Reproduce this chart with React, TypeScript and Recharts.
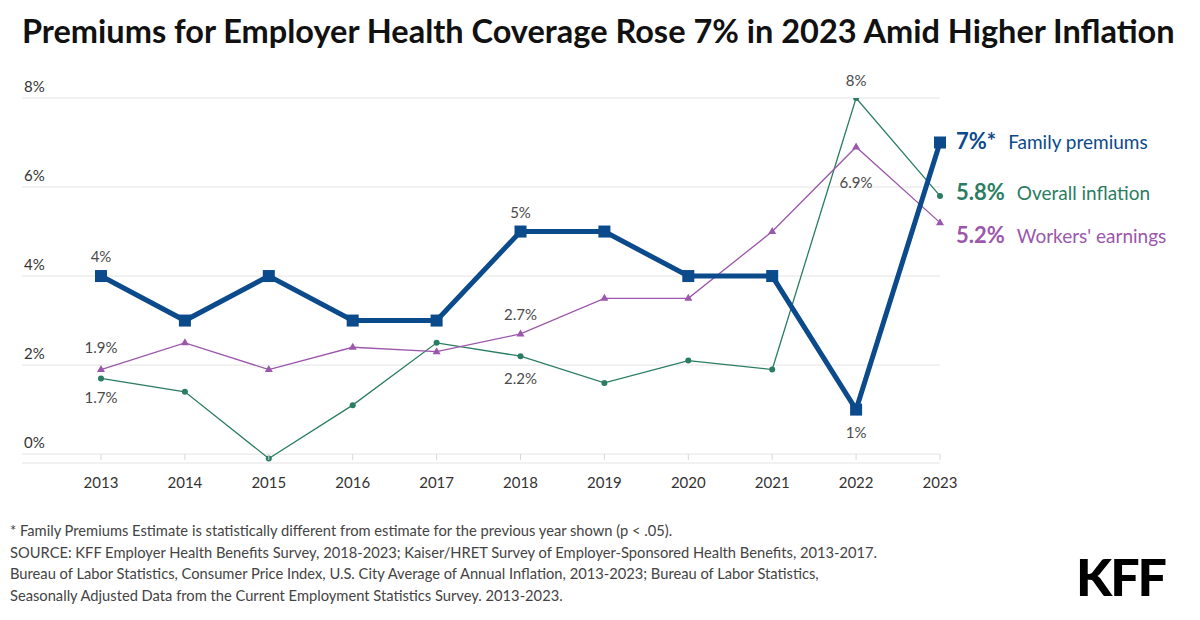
import { LineChart, Line, XAxis, YAxis, CartesianGrid, LabelList } from "recharts";

const years = ["2013", "2014", "2015", "2016", "2017", "2018", "2019", "2020", "2021", "2022", "2023"];
const familyPremiums = [4, 3, 4, 3, 3, 5, 5, 4, 4, 1, 7];
const overallInflation = [1.7, 1.4, -0.1, 1.1, 2.5, 2.2, 1.6, 2.1, 1.9, 8.0, 5.8];
const workersEarnings = [1.9, 2.5, 1.9, 2.4, 2.3, 2.7, 3.5, 3.5, 5.0, 6.9, 5.2];
const yTicks = [0, 2, 4, 6, 8];

// point labels shown on the chart ("" = none)
const premiumLabels = ["4%", "", "", "", "", "5%", "", "", "", "1%", ""];
const inflationLabels = ["1.7%", "", "", "", "", "2.2%", "", "", "", "8%", ""];
const earningsLabels = ["1.9%", "", "", "", "", "2.7%", "", "", "", "6.9%", ""];

const seriesNames = ["Family premiums", "Overall inflation", "Workers' earnings"];
const endValues = ["7%*", "5.8%", "5.2%"];

const title = "Premiums for Employer Health Coverage Rose 7% in 2023 Amid Higher Inflation";
const footnotes = [
  "* Family Premiums Estimate is statistically different from estimate for the previous year shown (p < .05).",
  "SOURCE: KFF Employer Health Benefits Survey, 2018-2023; Kaiser/HRET Survey of Employer-Sponsored Health Benefits, 2013-2017.",
  "Bureau of Labor Statistics, Consumer Price Index, U.S. City Average of Annual Inflation, 2013-2023; Bureau of Labor Statistics,",
  "Seasonally Adjusted Data from the Current Employment Statistics Survey. 2013-2023.",
];

const data = years.map((year, i) => ({
  year,
  premiums: familyPremiums[i],
  inflation: overallInflation[i],
  earnings: workersEarnings[i],
}));

const BLUE = "#0b4a8b";
const GREEN = "#2a7d62";
const PURPLE = "#9b57ab";
const FONT = "Lato, 'Noto Sans', sans-serif";

// vertical offset of each point label from its point
const labelDy: Record<string, number[]> = {
  premiums: [-19, 0, 0, 0, 0, -19, 0, 0, 0, 23, 0],
  inflation: [20, 0, 0, 0, 0, 23, 0, 0, 0, -17, 0],
  earnings: [-22, 0, 0, 0, 0, -19, 0, 0, 0, 36, 0],
};
const endDy = [-1, -3, 13];

const pointLabel = (texts: string[], key: string) => (props: any) => {
  const { x, y, index } = props;
  const t = texts[index];
  if (!t) return null;
  return (
    <text x={x} y={y + labelDy[key][index]} dy={5} textAnchor="middle" fontSize={15} fill="#4a4a4a" fontFamily={FONT}>
      {t}
    </text>
  );
};

const endLabel = (s: number, color: string) => (props: any) => {
  const { x, y, index } = props;
  if (index !== years.length - 1) return null;
  return (
    <text x={x + 16} y={y + endDy[s]} dy={7} fill={color} fontFamily={FONT}>
      <tspan fontSize={22} fontWeight={700}>{endValues[s]}</tspan>
      <tspan dx={12} fontSize={19}>{seriesNames[s]}</tspan>
    </text>
  );
};

const SquareDot = (props: any) => {
  const { cx, cy } = props;
  return <rect key={`sq-${cx}`} x={cx - 6} y={cy - 6} width={12} height={12} fill={BLUE} />;
};

const TriangleDot = (props: any) => {
  const { cx, cy } = props;
  return <polygon key={`tr-${cx}`} points={`${cx},${cy - 4.5} ${cx + 4},${cy + 2.5} ${cx - 4},${cy + 2.5}`} fill={PURPLE} />;
};

const XTick = (props: any) => {
  const { x, y, payload } = props;
  return (
    <g>
      <line x1={x} x2={x} y1={y - 9} y2={y - 3} stroke="#d8d8d8" />
      <text x={x} y={y + 25} textAnchor="middle" fontSize={15} fill="#333" fontFamily={FONT}>
        {payload.value}
      </text>
    </g>
  );
};

const YTick = (props: any) => {
  const { y, payload } = props;
  return (
    <text x={24} y={y - 6} textAnchor="start" fontSize={15} fill="#333" fontFamily={FONT}>
      {payload.value}%
    </text>
  );
};

export default function App() {
  return (
    <div style={{ position: "absolute", left: 0, top: 0, width: 1200, height: 620, background: "#fff", fontFamily: FONT }}>
      <div style={{ position: "absolute", left: 22, top: 11, fontSize: 32.5, fontWeight: 700, color: "#111", whiteSpace: "nowrap" }}>
        {title}
      </div>
      <LineChart width={1200} height={620} data={data} margin={{ top: 98, right: 260, bottom: 127, left: 0 }}>
        <CartesianGrid vertical={false} stroke="#e4e4e4" />
        <XAxis
          dataKey="year"
          axisLine={false}
          tickLine={false}
          tickSize={0}
          tickMargin={0}
          height={30}
          padding={{ left: 79, right: 0 }}
          tick={<XTick />}
          interval={0}
        />
        <YAxis
          width={22}
          domain={[-0.2, 8]}
          ticks={yTicks}
          axisLine={false}
          tickLine={false}
          tick={<YTick />}
          allowDataOverflow
        />
        <Line
          dataKey="inflation"
          stroke={GREEN}
          strokeWidth={1.3}
          dot={{ r: 3, fill: GREEN, stroke: "none" }}
          isAnimationActive={false}
        >
          <LabelList dataKey="inflation" content={pointLabel(inflationLabels, "inflation")} />
          <LabelList dataKey="inflation" content={endLabel(1, GREEN)} />
        </Line>
        <Line
          dataKey="earnings"
          stroke={PURPLE}
          strokeWidth={1.3}
          dot={<TriangleDot />}
          isAnimationActive={false}
        >
          <LabelList dataKey="earnings" content={pointLabel(earningsLabels, "earnings")} />
          <LabelList dataKey="earnings" content={endLabel(2, PURPLE)} />
        </Line>
        <Line
          dataKey="premiums"
          stroke={BLUE}
          strokeWidth={5}
          strokeLinejoin="miter"
          dot={<SquareDot />}
          isAnimationActive={false}
        >
          <LabelList dataKey="premiums" content={pointLabel(premiumLabels, "premiums")} />
          <LabelList dataKey="premiums" content={endLabel(0, BLUE)} />
        </Line>
      </LineChart>
      <div style={{ position: "absolute", left: 10, top: 520, fontSize: 14.7, lineHeight: "21.5px", color: "#444" }}>
        {footnotes.map((f) => (
          <div key={f}>{f}</div>
        ))}
      </div>
      <div style={{ position: "absolute", left: 1076, top: 545, fontSize: 52, fontWeight: 900, color: "#000", letterSpacing: -2 }}>
        KFF
      </div>
    </div>
  );
}
